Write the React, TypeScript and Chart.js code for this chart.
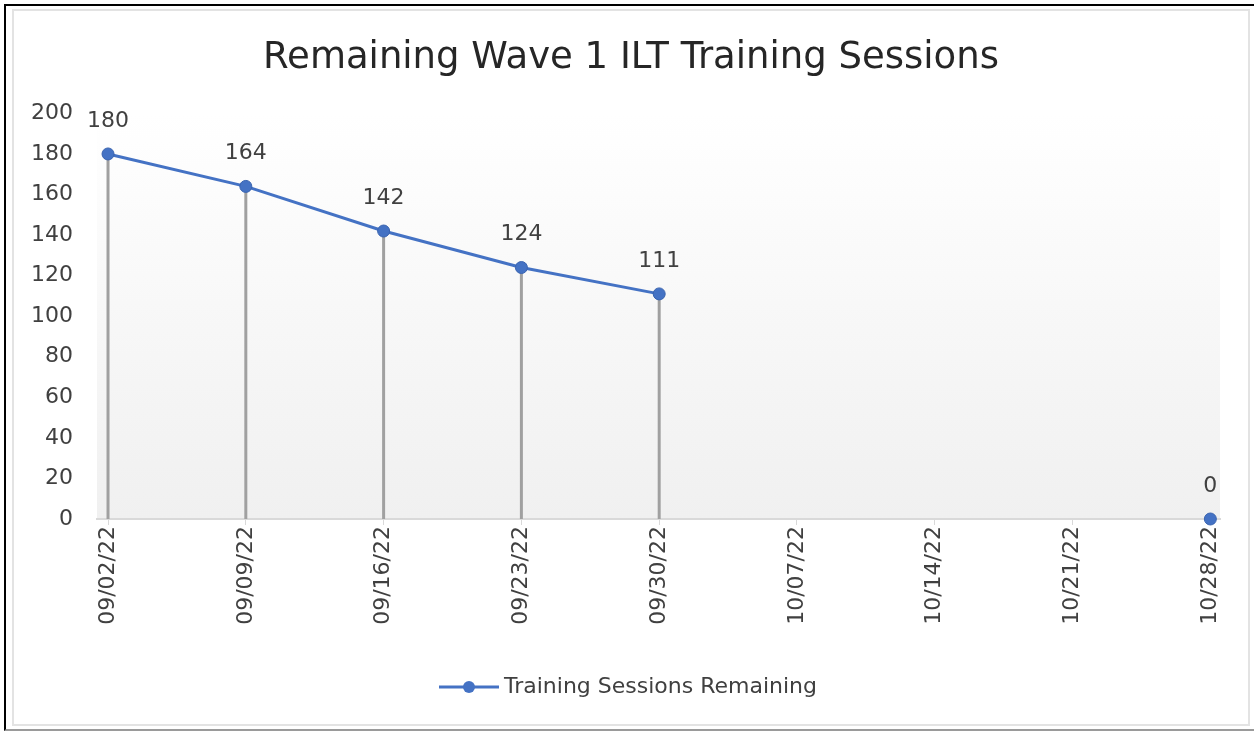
import React, { useEffect, useRef } from "react";
import { Chart, registerables } from "chart.js";

Chart.register(...registerables);

const TITLE = "Remaining Wave 1 ILT Training Sessions";
const SERIES_NAME = "Training Sessions Remaining";
const weekLabels = [
  "09/02/22",
  "09/09/22",
  "09/16/22",
  "09/23/22",
  "09/30/22",
  "10/07/22",
  "10/14/22",
  "10/21/22",
  "10/28/22",
];
const sessionsRemaining: (number | null)[] = [180, 164, 142, 124, 111, null, null, null, 0];
const yMin = 0;
const yMax = 200;
const yStep = 20;

const FONT = "'DejaVu Sans', 'Liberation Sans', sans-serif";
const TEXT = "#404040";
const BLUE = "#4472c4";

export default function App() {
  const canvasRef = useRef<HTMLCanvasElement | null>(null);

  useEffect(() => {
    const canvas = canvasRef.current;
    if (!canvas) return;

    const legendIcon = document.createElement("canvas");
    legendIcon.width = 62;
    legendIcon.height = 16;
    const ictx = legendIcon.getContext("2d")!;
    ictx.strokeStyle = BLUE;
    ictx.lineWidth = 3;
    ictx.beginPath();
    ictx.moveTo(1, 8);
    ictx.lineTo(61, 8);
    ictx.stroke();
    ictx.fillStyle = BLUE;
    ictx.beginPath();
    ictx.arc(31, 8, 6, 0, Math.PI * 2);
    ictx.fill();

    const bgPlugin = {
      id: "plotBg",
      beforeDraw(chart: any) {
        const { ctx, chartArea } = chart;
        if (!chartArea) return;
        const g = ctx.createLinearGradient(0, chartArea.top, 0, chartArea.bottom);
        g.addColorStop(0, "#ffffff");
        g.addColorStop(1, "#f0f0f0");
        ctx.save();
        ctx.fillStyle = g;
        ctx.fillRect(chartArea.left, chartArea.top, chartArea.right - chartArea.left, chartArea.bottom - chartArea.top);
        ctx.restore();
      },
    };

    const dropLines = {
      id: "dropLines",
      beforeDatasetsDraw(chart: any) {
        const { ctx, chartArea } = chart;
        const meta = chart.getDatasetMeta(0);
        const data = chart.data.datasets[0].data as any[];
        ctx.save();
        ctx.strokeStyle = "#a0a0a0";
        ctx.lineWidth = 3;
        meta.data.forEach((pt: any, i: number) => {
          const d = data[i];
          if (!d || d.y === null || d.y === 0) return;
          ctx.beginPath();
          ctx.moveTo(pt.x, pt.y);
          ctx.lineTo(pt.x, chartArea.bottom);
          ctx.stroke();
        });
        ctx.restore();
      },
    };

    const valueLabels = {
      id: "valueLabels",
      afterDatasetsDraw(chart: any) {
        const { ctx } = chart;
        const meta = chart.getDatasetMeta(0);
        const data = chart.data.datasets[0].data as any[];
        ctx.save();
        ctx.fillStyle = TEXT;
        ctx.font = `22px ${FONT}`;
        ctx.textAlign = "center";
        ctx.textBaseline = "middle";
        meta.data.forEach((pt: any, i: number) => {
          const d = data[i];
          if (!d || d.y === null) return;
          ctx.fillText(String(d.y), pt.x, pt.y - 33);
        });
        ctx.restore();
      },
    };

    const chart = new Chart(canvas, {
      type: "line",
      data: {
        datasets: [
          {
            label: SERIES_NAME,
            data: sessionsRemaining.map((v, i) => ({ x: i, y: v })) as any,
            borderColor: BLUE,
            backgroundColor: BLUE,
            borderWidth: 3,
            pointRadius: 6,
            pointBorderWidth: 1,
            pointBorderColor: "#3a64b0",
            pointBackgroundColor: BLUE,
            spanGaps: false,
            clip: false as any,
            tension: 0,
            yAxisID: "y",
          },
        ],
      },
      options: {
        animation: false,
        responsive: false,
        layout: { padding: { left: 0, right: 0, top: 0, bottom: 16 } },
        plugins: {
          title: {
            display: true,
            text: TITLE,
            color: "#262626",
            font: { family: FONT, size: 37, weight: "normal" as any },
            padding: { top: 24, bottom: 33 },
          },
          legend: {
            position: "bottom",
            labels: {
              usePointStyle: true,
              pointStyleWidth: 48,
              color: TEXT,
              font: { family: FONT, size: 22 },
              generateLabels: () => [
                {
                  text: SERIES_NAME,
                  pointStyle: legendIcon as any,
                  fillStyle: BLUE,
                  strokeStyle: BLUE,
                  lineWidth: 0,
                  hidden: false,
                  datasetIndex: 0,
                  fontColor: TEXT,
                } as any,
              ],
            },
          },
          tooltip: { enabled: false },
        },
        scales: {
          x: {
            type: "linear",
            min: -0.08,
            max: 8.07,
            afterBuildTicks: (s: any) => {
              s.ticks = weekLabels.map((_, i) => ({ value: i }));
            },
            afterFit: (s: any) => {
              s.height = 147;
            },
            ticks: {
              autoSkip: false,
              maxRotation: 90,
              minRotation: 90,
              padding: 1,
              color: TEXT,
              font: { family: FONT, size: 22 },
              callback: (_v: any, idx: number) => weekLabels[idx],
            },
            grid: { display: true, drawOnChartArea: false, tickLength: 6, color: "#d9d9d9" },
            border: { display: true, color: "#d9d9d9", width: 2 },
          },
          y: {
            min: yMin,
            max: yMax,
            afterFit: (s: any) => {
              s.width = 82;
            },
            ticks: {
              stepSize: yStep,
              padding: 24,
              color: TEXT,
              font: { family: FONT, size: 22 },
            },
            grid: { display: false, drawTicks: false },
            border: { display: false },
          },
          yRightSpacer: {
            position: "right",
            min: yMin,
            max: yMax,
            afterFit: (s: any) => {
              s.width = 27;
            },
            ticks: { display: false },
            grid: { display: false, drawTicks: false },
            border: { display: false },
          },
        },
      },
      plugins: [bgPlugin, dropLines, valueLabels],
    });

    return () => chart.destroy();
  }, []);

  return (
    <div
      style={{
        position: "absolute",
        left: 0,
        top: 0,
        width: 1254,
        height: 732,
        overflow: "hidden",
        background: "#ffffff",
      }}
    >
      <div
        style={{
          position: "absolute",
          left: 4,
          top: 4,
          width: 1260,
          height: 727,
          boxSizing: "border-box",
          borderLeft: "2px solid #000",
          borderTop: "2px solid #000",
          borderBottom: "2px solid #9a9a9a",
        }}
      />
      <div
        style={{
          position: "absolute",
          left: 12,
          top: 9,
          width: 1238,
          height: 717,
          boxSizing: "border-box",
          border: "2px solid #e3e3e3",
        }}
      />
      <canvas
        ref={canvasRef}
        width={1232}
        height={712}
        style={{ position: "absolute", left: 15, top: 12, width: 1232, height: 712 }}
      />
    </div>
  );
}
